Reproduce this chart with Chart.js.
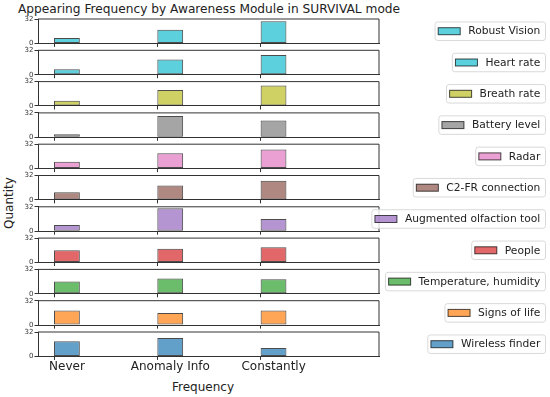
<!DOCTYPE html>
<html>
<head>
<meta charset="utf-8">
<script src="https://cdn.jsdelivr.net/npm/chart.js@4.4.0/dist/chart.umd.min.js"></script>
<style>
  body { margin: 0; background: #fff; width: 550px; height: 397px; overflow: hidden; position: relative; font-family: "DejaVu Sans", sans-serif; }
  canvas { position: absolute; left: 0; }
  .lbl { position: absolute; white-space: nowrap; color: #222; line-height: 1; text-align: center; }
  #title { font-size: 12.2px; left: 0; width: 418px; top: 3px; }
  #ylab { font-size: 12px; left: 9.3px; top: 203px; width: 100px; margin-left: -50px; margin-top: -6px; transform: rotate(-90deg); }
  #xlab { font-size: 12px; left: 0; width: 406px; top: 381.3px; }
</style>
</head>
<body>
<div class="lbl" id="title">Appearing Frequency by Awareness Module in SURVIVAL mode</div>
<div class="lbl" id="ylab">Quantity</div>
<div class="lbl" id="xlab">Frequency</div>
<div id="wrap"></div>
<script>
const categories = ["Never", "Anomaly Info", "Constantly"];
const yTicks = [0, 32];

// counts per module: Never, Anomaly Info, Constantly
const robustVision = [7, 18, 29];
const heartRate = [7, 20, 26];
const breathRate = [7, 21, 27];
const batteryLevel = [4, 28, 22];
const radar = [9, 20, 25];
const c2frConnection = [10, 19, 25];
const olfactionTool = [8, 30, 16];
const people = [16, 18, 20];
const temperature = [16, 20, 19];
const signsOfLife = [19, 16, 19];
const wirelessFinder = [20, 24, 11];

const modules = [
  "Robust Vision", "Heart rate", "Breath rate", "Battery level", "Radar",
  "C2-FR connection", "Augmented olfaction tool", "People",
  "Temperature, humidity", "Signs of life", "Wireless finder"
];
const series = [
  robustVision, heartRate, breathRate, batteryLevel, radar, c2frConnection,
  olfactionTool, people, temperature, signsOfLife, wirelessFinder
];
const colors = [
  "23,190,207", "23,190,207", "188,189,34", "127,127,127", "227,119,194",
  "140,86,75", "148,103,189", "214,39,40", "44,160,44", "255,127,14", "31,119,180"
];

Chart.defaults.font.family = "'DejaVu Sans', sans-serif";

const AXIS = "#333";
const plotLeft = 38, plotRight = 379;
const firstTop = 19, pitch = 31.3, plotH = 24.4;

const frameAndLegend = {
  id: "frameAndLegend",
  afterDraw(chart) {
    const { ctx, chartArea: a } = chart;
    const ds = chart.data.datasets[0];
    ctx.save();
    ctx.strokeStyle = AXIS;
    ctx.lineWidth = 1;
    ctx.beginPath();
    ctx.moveTo(a.left, a.top);
    ctx.lineTo(a.right, a.top);
    ctx.lineTo(a.right, a.bottom);
    ctx.stroke();

    // legend box, right aligned
    ctx.font = "10.7px 'DejaVu Sans'";
    const tw = ctx.measureText(ds.label).width;
    const bw = 3.6 + 22 + 8 + tw + 4.7, bh = 18.5;
    const right = 545, left = right - bw;
    const cy = (a.top + a.bottom) / 2;
    ctx.beginPath();
    ctx.roundRect(left + 0.5, cy - bh / 2, bw, bh, 2.5);
    ctx.fillStyle = "rgba(255,255,255,0.8)";
    ctx.fill();
    ctx.strokeStyle = "#d9d9d9";
    ctx.stroke();
    ctx.fillStyle = ds.backgroundColor;
    ctx.fillRect(left + 3.6, cy - 3.5, 22, 7);
    ctx.strokeStyle = ds.borderColor;
    ctx.strokeRect(left + 3.6, cy - 3.5, 22, 7);
    ctx.fillStyle = "#222";
    ctx.textBaseline = "middle";
    ctx.fillText(ds.label, left + 3.6 + 22 + 8, cy + 0.5);
    ctx.restore();
  }
};

const wrap = document.getElementById("wrap");

modules.forEach((name, i) => {
  const last = i === modules.length - 1;
  const rowTop = firstTop + i * pitch;
  const canvasTop = Math.round(rowTop) - 8;
  const padTop = rowTop - canvasTop;
  const canvasH = last ? 397 - canvasTop : 41;

  const canvas = document.createElement("canvas");
  canvas.width = 550;
  canvas.height = canvasH;
  canvas.style.top = canvasTop + "px";
  wrap.appendChild(canvas);

  new Chart(canvas, {
    type: "bar",
    data: {
      datasets: [{
        label: name,
        data: series[i].map((v, k) => ({ x: k + 0.125, y: v })),
        backgroundColor: "rgba(" + colors[i] + ",0.7)",
        borderColor: "rgba(0,0,0,0.7)",
        borderWidth: 1,
        borderSkipped: false,
        categoryPercentage: 1,
        barPercentage: 0.25
      }]
    },
    options: {
      responsive: false,
      animation: false,
      devicePixelRatio: 1,
      layout: { padding: { top: padTop, right: 550 - plotRight, left: 0, bottom: 0 } },
      plugins: { legend: { display: false }, tooltip: { enabled: false } },
      scales: {
        x: {
          type: "linear",
          offset: false,
          min: -0.155,
          max: 3.146,
          afterBuildTicks: (s) => { s.ticks = [0, 1, 2].map((v) => ({ value: v })); },
          afterFit: (s) => { s.height = canvasH - padTop - plotH; },
          grid: { display: true, offset: false, drawOnChartArea: false, drawTicks: true, tickLength: 3.5, color: AXIS },
          border: { display: true, color: AXIS, width: 1 },
          ticks: {
            callback: (v) => (last ? categories[v] : ""),
            labelOffset: 13,
            padding: 0,
            color: "#222",
            font: { size: 12 },
            maxRotation: 0
          }
        },
        y: {
          min: 0,
          max: 32,
          afterBuildTicks: (s) => { s.ticks = yTicks.map((v) => ({ value: v })); },
          afterFit: (s) => { s.width = plotLeft; },
          grid: { display: true, drawOnChartArea: false, drawTicks: true, tickLength: 3.5, color: AXIS },
          border: { display: true, color: AXIS, width: 1 },
          ticks: { color: AXIS, font: { size: 7 }, padding: 1 }
        }
      }
    },
    plugins: [frameAndLegend]
  });
});
</script>
</body>
</html>
